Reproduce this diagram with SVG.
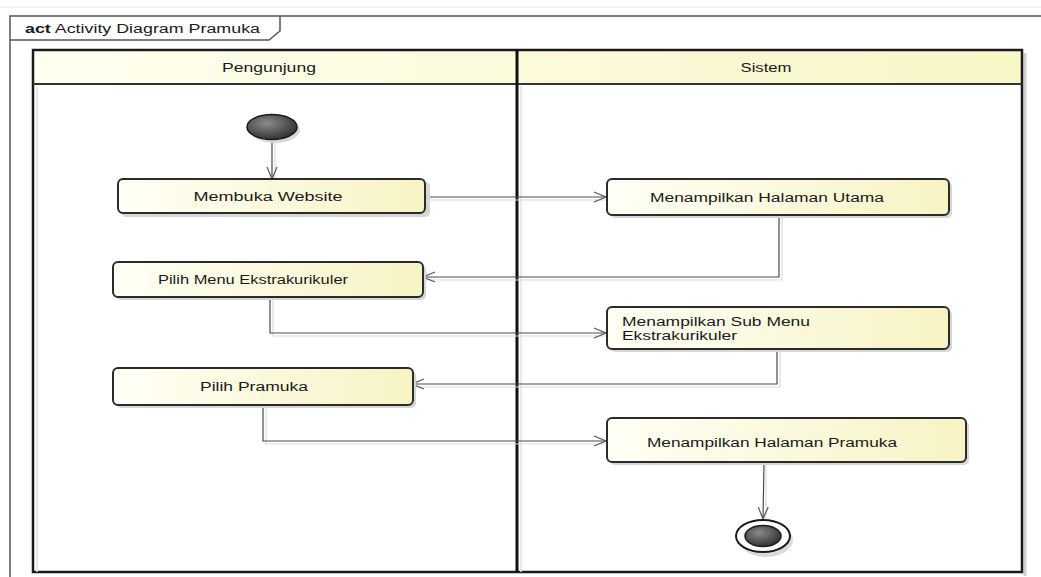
<svg xmlns="http://www.w3.org/2000/svg" width="1041" height="577" viewBox="0 0 1041 577">
  <defs>
    <linearGradient id="nodeFill" x1="0" y1="0" x2="1" y2="0">
      <stop offset="0" stop-color="#fffff6"/>
      <stop offset="1" stop-color="#f7f3c4"/>
    </linearGradient>
    <linearGradient id="headFill" x1="0" y1="0" x2="1" y2="0">
      <stop offset="0" stop-color="#fffff0"/>
      <stop offset="1" stop-color="#f8f5c6"/>
    </linearGradient>
    <radialGradient id="ballFill" cx="0.4" cy="0.35" r="0.7">
      <stop offset="0" stop-color="#8a8a8a"/>
      <stop offset="1" stop-color="#2e2e2e"/>
    </radialGradient>
    <marker id="open" viewBox="0 0 14 12" refX="13" refY="6" markerWidth="14" markerHeight="12" markerUnits="userSpaceOnUse" orient="auto">
      <path d="M1,1 L13,6 L1,11" fill="none" stroke="#555" stroke-width="1.2"/>
    </marker>
  </defs>
  <style>
    .node rect.body { fill: url(#nodeFill); stroke: #2b2b2b; stroke-width: 2; }
    .node rect.shadow { fill: #d6d6d6; stroke: none; }
    .lbl { font-family: "Liberation Sans", Arial, sans-serif; font-size: 12px; fill: #1a1a1a; }
    .conn { fill: none; stroke: #4a4a4a; stroke-width: 1.2; }
    .connsh { fill: none; stroke: #dcdcdc; stroke-width: 1.2; }
    .lane { fill: none; stroke: #1a1a1a; stroke-width: 2.5; }
  </style>
  <rect x="0" y="0" width="1041" height="577" fill="#ffffff"/>

  <!-- Frame -->
  <g id="frame">
    <line x1="0" y1="7" x2="1041" y2="7" stroke="#e6e6e6" stroke-width="1"/>
    <path d="M10,577 L10,16 L1041,16" fill="none" stroke="#555" stroke-width="1.5"/>
    <path d="M10,40 L269,40 L280,31 L280,16" fill="none" stroke="#555" stroke-width="1.5"/>
    <text x="25" y="33" class="lbl" textLength="235" lengthAdjust="spacingAndGlyphs"><tspan font-weight="bold">act</tspan> Activity Diagram Pramuka</text>
  </g>

  <!-- Swimlanes -->
  <g id="swimlanes">
    <line x1="1025" y1="53" x2="1025" y2="576" stroke="#cfcfcf" stroke-width="3"/>
    <rect x="33" y="50" width="989" height="34" fill="url(#headFill)"/>
    <rect x="33" y="50" width="989" height="522" class="lane"/>
    <line x1="33" y1="84" x2="1022" y2="84" stroke="#333" stroke-width="2"/>
    <line x1="517" y1="50" x2="517" y2="572" stroke="#111" stroke-width="3"/>
    <line x1="521" y1="86" x2="521" y2="572" stroke="#e2e2e2" stroke-width="1.5"/>
    <line x1="37" y1="86" x2="37" y2="572" stroke="#e2e2e2" stroke-width="1.5"/>
    <text x="269" y="72" class="lbl" text-anchor="middle" textLength="94" lengthAdjust="spacingAndGlyphs">Pengunjung</text>
    <text x="766" y="72" class="lbl" text-anchor="middle" textLength="51" lengthAdjust="spacingAndGlyphs">Sistem</text>
  </g>

  <!-- Connectors -->
  <g id="connectors">
    <path class="connsh" d="M275,141 L275,179"/>
    <path class="conn" d="M272,140 L272,179" marker-end="url(#open)"/>
    <path class="connsh" d="M426,200 L606,200"/>
    <path class="conn" d="M426,197 L606,197" marker-end="url(#open)"/>
    <path class="connsh" d="M782,216 L782,280 L424,280"/>
    <path class="conn" d="M779,215 L779,277 L423,277" marker-end="url(#open)"/>
    <path class="connsh" d="M273,298 L273,336 L606,336"/>
    <path class="conn" d="M270,297 L270,333 L606,333" marker-end="url(#open)"/>
    <path class="connsh" d="M780,351 L780,387 L413,387"/>
    <path class="conn" d="M777,350 L777,384 L412,384" marker-end="url(#open)"/>
    <path class="connsh" d="M266,406 L266,444 L605,444"/>
    <path class="conn" d="M263,405 L263,441 L606,441" marker-end="url(#open)"/>
    <path class="connsh" d="M766,463 L766,519"/>
    <path class="conn" d="M764,462 L763,519" marker-end="url(#open)"/>
  </g>

  <!-- Initial node -->
  <g id="initial">
    <ellipse cx="275" cy="130" rx="25" ry="13" fill="#d8d8d8"/>
    <ellipse cx="272" cy="127" rx="25" ry="12.5" fill="url(#ballFill)" stroke="#1a1a1a" stroke-width="1.5"/>
  </g>

  <g id="membuka-website" class="node">
    <rect class="shadow" x="121" y="182" width="309" height="35" rx="5"/>
    <rect class="body" x="118" y="179" width="307" height="34" rx="5"/>
    <text x="268" y="201" class="lbl" text-anchor="middle" textLength="149" lengthAdjust="spacingAndGlyphs">Membuka Website</text>
  </g>

  <g id="halaman-utama" class="node">
    <rect class="shadow" x="610" y="182" width="342" height="36" rx="5"/>
    <rect class="body" x="607" y="179" width="342" height="36" rx="5"/>
    <text x="767" y="202" class="lbl" text-anchor="middle" textLength="234" lengthAdjust="spacingAndGlyphs">Menampilkan Halaman Utama</text>
  </g>

  <g id="pilih-menu" class="node">
    <rect class="shadow" x="116" y="265" width="310" height="35" rx="5"/>
    <rect class="body" x="113" y="262" width="310" height="35" rx="5"/>
    <text x="253" y="284" class="lbl" text-anchor="middle" textLength="190" lengthAdjust="spacingAndGlyphs">Pilih Menu Ekstrakurikuler</text>
  </g>

  <g id="sub-menu" class="node">
    <rect class="shadow" x="610" y="310" width="342" height="42" rx="5"/>
    <rect class="body" x="607" y="307" width="342" height="42" rx="5"/>
    <text x="622" y="326" class="lbl" textLength="188" lengthAdjust="spacingAndGlyphs">Menampilkan Sub Menu</text>
    <text x="622" y="340" class="lbl" textLength="115" lengthAdjust="spacingAndGlyphs">Ekstrakurikuler</text>
  </g>

  <g id="pilih-pramuka" class="node">
    <rect class="shadow" x="116" y="371" width="300" height="37" rx="5"/>
    <rect class="body" x="113" y="368" width="300" height="37" rx="5"/>
    <text x="254" y="391" class="lbl" text-anchor="middle" textLength="108" lengthAdjust="spacingAndGlyphs">Pilih Pramuka</text>
  </g>

  <g id="halaman-pramuka" class="node">
    <rect class="shadow" x="610" y="421" width="359" height="44" rx="5"/>
    <rect class="body" x="607" y="418" width="359" height="44" rx="5"/>
    <text x="772" y="447" class="lbl" text-anchor="middle" textLength="250" lengthAdjust="spacingAndGlyphs">Menampilkan Halaman Pramuka</text>
  </g>

  <!-- Final node -->
  <g id="final">
    <ellipse cx="766" cy="540" rx="27" ry="17" fill="#dadada"/>
    <ellipse cx="763" cy="536" rx="27" ry="16" fill="#ffffff" stroke="#1a1a1a" stroke-width="2"/>
    <ellipse cx="763" cy="536" rx="18" ry="10.5" fill="url(#ballFill)" stroke="#1a1a1a" stroke-width="1.5"/>
  </g>
</svg>
